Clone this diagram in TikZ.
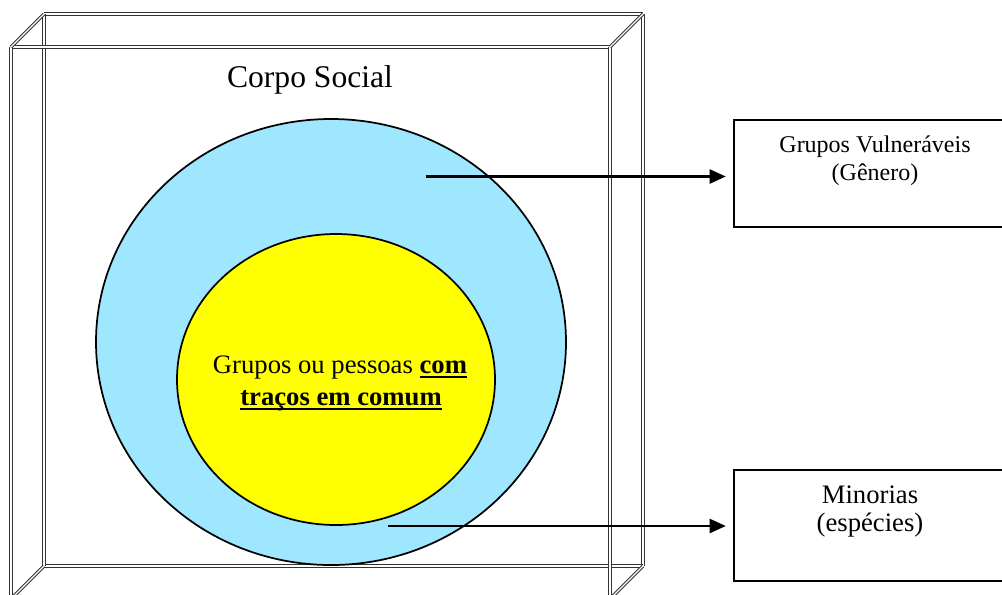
\documentclass[tikz,border=0pt]{standalone}
\usepackage{fontspec}
\setmainfont{Liberation Serif}
\usetikzlibrary{arrows.meta,shapes.geometric}
\definecolor{skyfill}{RGB}{158,231,254}
\definecolor{yelfill}{RGB}{255,255,0}
\newcommand\thickul[1]{\setbox0\hbox{#1}\rlap{\rule[-4pt]{\wd0}{1.8pt}}\box0}
\begin{document}
\begin{tikzpicture}[x=0.75pt,y=-0.75pt,
  frameline/.style={draw=black!80, double=white, line width=0.8pt, double distance=0.9pt},
  outbox/.style={draw=black, line width=1.4pt, rectangle, inner sep=0pt},
  arr/.style={draw=black, line width=1.7pt, -{Triangle[length=12pt,width=10.5pt]}, shorten >=5.5pt},
  ring/.style={ellipse, draw=black, line width=1.3pt, inner sep=0pt}]
\clip (0,0) rectangle (1002,594);
\fill[white] (0,0) rectangle (1002,594);
% 3D frame
\coordinate (b1) at (44,14);  \coordinate (b2) at (643,14);
\coordinate (b3) at (643,566); \coordinate (b4) at (44,566);
\coordinate (f1) at (11,47);  \coordinate (f2) at (610,47);
\coordinate (f3) at (610,599); \coordinate (f4) at (11,599);
\draw[frameline] (b1) -- (b2);
\draw[frameline] (b2) -- (b3);
\draw[frameline] (b3) -- (b4);
\draw[frameline] (b4) -- (b1);
\draw[frameline] (f1) -- (f2);
\draw[frameline] (f2) -- (f3);
\draw[frameline] (f3) -- (f4);
\draw[frameline] (f4) -- (f1);
\draw[frameline] (b1) -- (f1);
\draw[frameline] (b2) -- (f2);
\draw[frameline] (b3) -- (f3);
\draw[frameline] (b4) -- (f4);
% title
\node[anchor=base, inner sep=0pt, font=\fontsize{23.7}{28}\selectfont] (title) at (310,87) {Corpo Social};
% ellipses
\node[ring, fill=skyfill, minimum width=352.5pt, minimum height=334.5pt] (outer) at (331,342) {};
\node[ring, fill=yelfill, minimum width=238.5pt, minimum height=218.25pt] (inner) at (336,379.5) {};
\node[anchor=base, inner sep=0pt, font=\fontsize{20}{24}\selectfont] (t1) at (340,373) {Grupos ou pessoas \thickul{\textbf{com}}};
\node[anchor=base, inner sep=0pt, font=\fontsize{20}{24}\selectfont] (t2) at (341,405) {\thickul{\textbf{traços em comum}}};
% right boxes
\node[outbox, minimum width=211.5pt, minimum height=80.25pt] (vul) at (875,173.5) {};
\node[anchor=base, inner sep=0pt, font=\fontsize{18}{22}\selectfont] (vul1) at (875,152.5) {Grupos Vulneráveis};
\node[anchor=base, inner sep=0pt, font=\fontsize{18}{22}\selectfont] (vul2) at (875,180) {(Gênero)};
\node[outbox, minimum width=211.5pt, minimum height=83.25pt] (mino) at (875,525.5) {};
\node[anchor=base, inner sep=0pt, font=\fontsize{20}{24}\selectfont] (min1) at (870,503) {Minorias};
\node[anchor=base, inner sep=0pt, font=\fontsize{20}{24}\selectfont] (min2) at (870,531) {(espécies)};
% arrows
\coordinate (a1) at (426,176.5);
\coordinate (a2) at (388,526);
\draw[arr] (a1) -- (a1 -| vul.west);
\draw[arr] (a2) -- (a2 -| mino.west);
\end{tikzpicture}
\end{document}
